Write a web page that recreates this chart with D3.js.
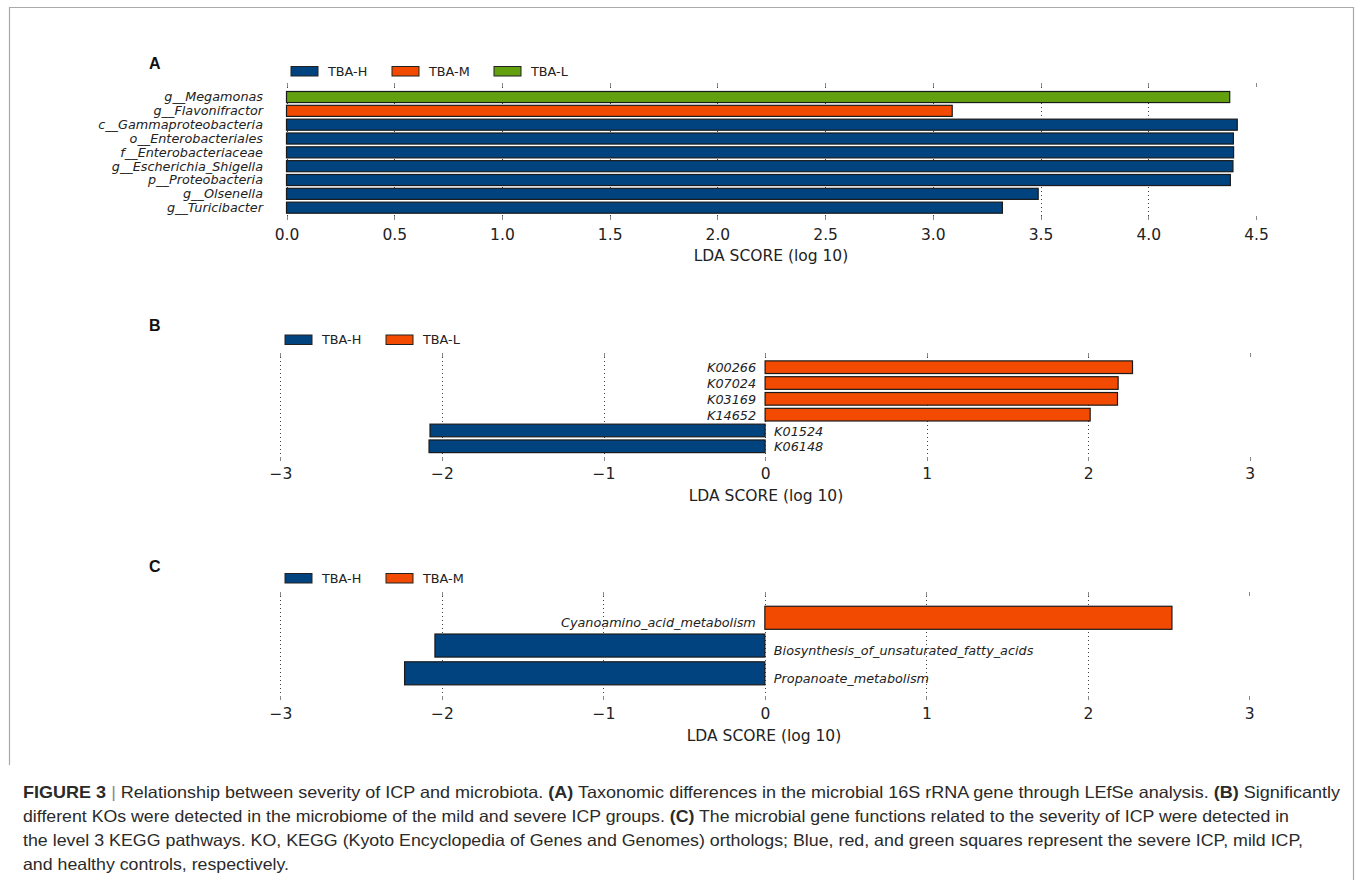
<!DOCTYPE html>
<html><head><meta charset="utf-8">
<script src="https://cdn.jsdelivr.net/npm/d3@7/dist/d3.min.js"></script>
<style>body{margin:0;background:#fff}svg{display:block}</style>
</head><body>
<script>
// ---------- DATA ----------
const palette = ["#00437f", "#f24a00", "#62a010"]; // colours by legend order

// Panel A
const aCategories = ["g__Megamonas","g__Flavonifractor","c__Gammaproteobacteria","o__Enterobacteriales","f__Enterobacteriaceae","g__Escherichia_Shigella","p__Proteobacteria","g__Olsenella","g__Turicibacter"];
const aValues = [4.378, 3.09, 4.413, 4.395, 4.396, 4.393, 4.381, 3.489, 3.323];
const aClasses = ["TBA-L","TBA-M","TBA-H","TBA-H","TBA-H","TBA-H","TBA-H","TBA-H","TBA-H"];
const aLegend = ["TBA-H","TBA-M","TBA-L"];
const aTicks = [0, 0.5, 1.0, 1.5, 2.0, 2.5, 3.0, 3.5, 4.0, 4.5];

// Panel B
const bCategories = ["K00266","K07024","K03169","K14652","K01524","K06148"];
const bValues = [2.274, 2.185, 2.181, 2.012, -2.074, -2.080];
const bClasses = ["TBA-L","TBA-L","TBA-L","TBA-L","TBA-H","TBA-H"];
const bLegend = ["TBA-H","TBA-L"];
const bTicks = [-3, -2, -1, 0, 1, 2, 3];

// Panel C
const cCategories = ["Cyanoamino_acid_metabolism","Biosynthesis_of_unsaturated_fatty_acids","Propanoate_metabolism"];
const cValues = [2.521, -2.043, -2.231];
const cClasses = ["TBA-M","TBA-H","TBA-H"];
const cLegend = ["TBA-H","TBA-M"];
const cTicks = [-3, -2, -1, 0, 1, 2, 3];

const axisTitle = "LDA SCORE (log 10)";

const captionLines = [
  [["FIGURE 3",true],[" | ",false,"#888"],["Relationship between severity of ICP and microbiota. ",false],["(A)",true],[" Taxonomic differences in the microbial 16S rRNA gene through LEfSe analysis. ",false],["(B)",true],[" Significantly",false]],
  [["different KOs were detected in the microbiome of the mild and severe ICP groups. ",false],["(C)",true],[" The microbial gene functions related to the severity of ICP were detected in",false]],
  [["the level 3 KEGG pathways. KO, KEGG (Kyoto Encyclopedia of Genes and Genomes) orthologs; Blue, red, and green squares represent the severe ICP, mild ICP,",false]],
  [["and healthy controls, respectively.",false]]
];

// ---------- DRAW ----------
const W = 1355, H = 880;
const svg = d3.select("body").append("svg").attr("width", W).attr("height", H);
svg.append("rect").attr("width", W).attr("height", H).attr("fill", "#fff");

// frame
svg.append("path").attr("d", `M9.5,765 V7.5 H1353.5 V880`).attr("fill","none").attr("stroke","#aaa").attr("stroke-width",1.2);

const FONT = "'DejaVu Sans', sans-serif";

function panel(cfg) {
  const g = svg.append("g");
  const x = d3.scaleLinear().domain(cfg.domain).range(cfg.xr);
  const y = d3.scaleBand().domain(cfg.cats).range(cfg.yr).paddingInner(cfg.pad).paddingOuter(cfg.pad/2);
  const color = d3.scaleOrdinal().domain(cfg.legend).range(palette);

  // panel letter
  g.append("text").attr("x", 149).attr("y", cfg.letterY).text(cfg.letter)
    .attr("font-family","'Liberation Sans', Arial, sans-serif").attr("font-weight","bold").attr("font-size",16).attr("fill","#111");

  // legend
  cfg.legend.forEach((c, i) => {
    const lx = cfg.legendX[i];
    g.append("rect").attr("x", lx).attr("y", cfg.legendY - 4.5).attr("width", 27).attr("height", 9.5)
      .attr("fill", color(c)).attr("stroke", "#222").attr("stroke-width", 1);
    g.append("text").attr("x", lx + 37).attr("y", cfg.legendY + 4.5).text(c)
      .attr("font-family", FONT).attr("font-size", 12.8).attr("fill", "#222");
  });

  // grid + ticks
  const tg = g.append("g");
  cfg.ticks.forEach((t, i) => {
    const tx = Math.round(x(t)) + 0.5;
    if (i < cfg.ticks.length - 1) {
      tg.append("line").attr("x1", tx).attr("x2", tx).attr("y1", cfg.tickTop).attr("y2", cfg.tickBot)
        .attr("stroke", "#444").attr("stroke-width", 1).attr("stroke-dasharray", "1,3");
    }
    tg.append("line").attr("x1", tx).attr("x2", tx).attr("y1", cfg.tickTop).attr("y2", cfg.tickTop + 4)
      .attr("stroke", "#888").attr("stroke-width", 1);
    tg.append("line").attr("x1", tx).attr("x2", tx).attr("y1", cfg.tickBot - 4).attr("y2", cfg.tickBot)
      .attr("stroke", "#888").attr("stroke-width", 1);
  });

  // tick labels via axis
  const ax = d3.axisBottom(x).tickValues(cfg.ticks).tickFormat(cfg.fmt).tickSize(0).tickPadding(0);
  const axg = g.append("g").attr("transform", `translate(0,${cfg.tickLabelY})`).call(ax);
  axg.select(".domain").remove();
  axg.selectAll("text").attr("font-family", FONT).attr("font-size", 15.5).attr("fill", "#222").attr("dy", 0);

  g.append("text").attr("x", (cfg.titleX)).attr("y", cfg.titleY).attr("text-anchor","middle").text(axisTitle)
    .attr("font-family", FONT).attr("font-size", 15.5).attr("fill", "#222");

  // bars
  cfg.cats.forEach((c, i) => {
    const v = cfg.vals[i];
    const x0 = x(Math.min(0, v)), x1 = x(Math.max(0, v));
    g.append("rect").attr("x", x0).attr("y", y(c)).attr("width", x1 - x0).attr("height", y.bandwidth())
      .attr("fill", color(cfg.cls[i])).attr("stroke", "#1a1a1a").attr("stroke-width", 1.2);
  });

  // labels
  cfg.cats.forEach((c, i) => {
    const v = cfg.vals[i];
    const ty = y(c) + y.bandwidth()/2 + y.bandwidth()*0.4;
    let tx, anchor;
    if (cfg.leftLabels) { tx = cfg.leftLabelX; anchor = "end"; }
    else if (v >= 0) { tx = x(0) - 9; anchor = "end"; }
    else { tx = x(0) + 9; anchor = "start"; }
    g.append("text").attr("x", tx).attr("y", ty).attr("text-anchor", anchor).text(c)
      .attr("font-family", FONT).attr("font-style","italic").attr("font-size", 12.8).attr("fill", "#222");
  });
}

panel({letter:"A", letterY:69, cats:aCategories, vals:aValues, cls:aClasses, legend:aLegend, legendX:[291,392,494], legendY:71,
  ticks:aTicks, fmt:d3.format(".1f"), domain:[0,4.5], xr:[286.5,1256], yr:[90.1,214.6], pad:0.2,
  tickTop:83, tickBot:220, tickLabelY:239.5, titleY:260.5, titleX:771, leftLabels:true, leftLabelX:263});

panel({letter:"B", letterY:331, cats:bCategories, vals:bValues, cls:bClasses, legend:bLegend, legendX:[285,386], legendY:339.5,
  ticks:bTicks, fmt:d3.format("d"), domain:[-3,3], xr:[280.4,1249.8], yr:[359.3,454.2], pad:0.2,
  tickTop:353, tickBot:461, tickLabelY:478.5, titleY:500.5, titleX:766});

panel({letter:"C", letterY:572, cats:cCategories, vals:cValues, cls:cClasses, legend:cLegend, legendX:[285,386], legendY:578,
  ticks:cTicks, fmt:d3.format("d"), domain:[-3,3], xr:[280.4,1249.3], yr:[603.9,687.2], pad:0.17,
  tickTop:592, tickBot:700, tickLabelY:718.5, titleY:740.5, titleX:764});

// caption
const capEnds = [1340, 1289, 1303, 289];
captionLines.forEach((line, i) => {
  const t = svg.append("text").attr("x", 23).attr("y", 798 + i*24)
    .attr("font-family", "'Liberation Sans Narrow', 'Liberation Sans', Arial, sans-serif").attr("font-size", 16.5).attr("fill", "#2a2a2a")
    .attr("textLength", capEnds[i] - 23).attr("lengthAdjust", "spacingAndGlyphs");
  line.forEach(([s, b, col]) => {
    const ts = t.append("tspan").text(s);
    if (b) ts.attr("font-weight", "bold");
    if (col) ts.attr("fill", col);
  });
});
</script>
</body></html>
